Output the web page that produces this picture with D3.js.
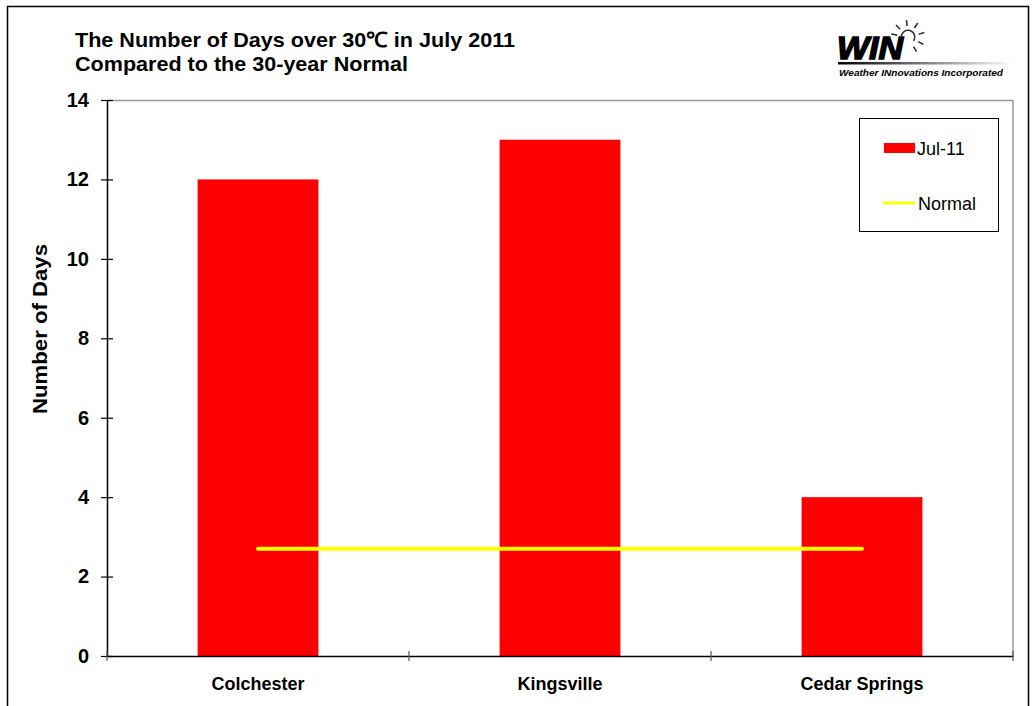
<!DOCTYPE html>
<html>
<head>
<meta charset="utf-8">
<script src="https://cdn.jsdelivr.net/npm/d3@7"></script>
<style>
body { margin:0; background:#fff; }
text { font-family: "Liberation Sans", Arial, sans-serif; }
</style>
</head>
<body>
<div id="chart"></div>
<script>
// data
var stations = ["Colchester", "Kingsville", "Cedar Springs"];
var daysJul11 = [12, 13, 4];
var daysNormal = [2.7, 2.7, 2.7];
var yTicks = [0, 2, 4, 6, 8, 10, 12, 14];
var seriesNames = ["Jul-11", "Normal"];

function drawChart() {
    var svgWidth = 1033, svgHeight = 706;
    var margin = {top: 100, right: 20, bottom: 50, left: 107},
    width = 1013 - margin.left,
    height = 656 - margin.top;

    var svg = d3.select("#chart").append("svg")
    .attr("width", svgWidth).attr("height", svgHeight);

    // outer frame of the chart object
    svg.append("rect").attr("x", 7.5).attr("y", 6.5).attr("width", 1021).attr("height", 720)
    .style("stroke", "#000").style("stroke-width", 1.5).style("fill", "none");

    var g = svg.append("g").attr("transform", "translate(" + margin.left + "," + margin.top + ")");

    // scales
    var xScale = d3.scaleBand().domain(stations).range([0, width]).paddingInner(0.6).paddingOuter(0.3);
    var xBand = d3.scaleBand().domain(stations).range([0, width]);
    var yScale = d3.scaleLinear().domain([0, 14]).range([height, 0]);

    // plot area border (top and right, grey)
    g.append("line").attr("x1", 0).attr("x2", width).attr("y1", 0.5).attr("y2", 0.5)
    .style("stroke", "#999").style("stroke-width", 1.5);
    g.append("line").attr("x1", width).attr("x2", width).attr("y1", 0).attr("y2", height)
    .style("stroke", "#999").style("stroke-width", 1.5);

    // bars
    g.selectAll("rect.bar").data(daysJul11).enter().append("rect").attr("class", "bar")
    .attr("x", function(d, i) { return xScale(stations[i]); })
    .attr("y", function(d) { return yScale(d); })
    .attr("width", xScale.bandwidth())
    .attr("height", function(d) { return height - yScale(d); })
    .attr("fill", "#ff0000");

    // normal line from first to last category centre
    var line = d3.line().x(function(d, i) { return xBand(stations[i]) + xBand.bandwidth() / 2; })
    .y(function(d) { return yScale(d); });
    g.append("path").datum(daysNormal).attr("d", line)
    .attr("fill", "none").attr("stroke", "#ffff00").attr("stroke-width", 4).attr("stroke-linecap", "round");

    // Y axis
    var yAxis = g.append("g").call(d3.axisLeft(yScale).tickValues(yTicks).tickSize(0).tickPadding(18));
    yAxis.select(".domain").style("stroke", "#000").style("stroke-width", 1.5);
    yAxis.selectAll(".tick line").attr("x1", -6).attr("x2", 6).style("stroke", "#000").style("stroke-width", 1.2);
    yAxis.selectAll(".tick text").style("font-size", "20px").style("font-weight", "bold")
    .style("font-family", "Liberation Sans, Arial, sans-serif").attr("fill", "#000");

    // X axis
    var xAxis = g.append("g").attr("transform", "translate(0," + height + ")")
    .call(d3.axisBottom(xBand).tickSize(0).tickPadding(21));
    xAxis.select(".domain").style("stroke", "#000").style("stroke-width", 1.5);
    xAxis.selectAll(".tick text").style("font-size", "18px").style("font-weight", "bold")
    .style("font-family", "Liberation Sans, Arial, sans-serif").attr("fill", "#000");
    // category boundary ticks
    var bounds = stations.map(function(s) { return xBand(s); }).concat([width]);
    xAxis.selectAll("line.bound").data(bounds).enter().append("line").attr("class", "bound")
    .attr("x1", function(d) { return d; }).attr("x2", function(d) { return d; })
    .attr("y1", -5).attr("y2", 5).style("stroke", "#555").style("stroke-width", 1.2);

    // Y axis label
    svg.append("text").attr("text-anchor", "middle").attr("transform", "rotate(-90)")
    .attr("x", -329).attr("y", 47)
    .style("font-size", "21px").style("font-weight", "bold")
    .attr("textLength", 170).attr("lengthAdjust", "spacingAndGlyphs")
    .text("Number of Days");

    // title
    var title = svg.append("text").attr("x", 75).style("font-size", "21px").style("font-weight", "bold");
    title.append("tspan").attr("x", 75).attr("y", 47).attr("textLength", 440).attr("lengthAdjust", "spacingAndGlyphs")
    .text("The Number of Days over 30\u2103 in July 2011");
    title.append("tspan").attr("x", 75).attr("y", 71).attr("textLength", 333).attr("lengthAdjust", "spacingAndGlyphs")
    .text("Compared to the 30-year Normal");

    // legend
    var legend = svg.append("g");
    legend.append("rect").attr("x", 859.5).attr("y", 118.5).attr("width", 139).attr("height", 113)
    .style("stroke", "#000").style("stroke-width", 1).style("fill", "#fff");
    legend.append("rect").attr("x", 884).attr("y", 143).attr("width", 31).attr("height", 10).attr("fill", "#ff0000");
    legend.append("text").attr("x", 917).attr("y", 155).style("font-size", "18px").text(seriesNames[0]);
    legend.append("line").attr("x1", 883).attr("x2", 915).attr("y1", 203).attr("y2", 203)
    .style("stroke", "#ffff00").style("stroke-width", 3);
    legend.append("text").attr("x", 918).attr("y", 210).style("font-size", "18px").text(seriesNames[1]);

    ////////////////
    //// logo  /////
    ////////////////
    var logo = svg.append("g");
    var grad = svg.append("defs").append("linearGradient").attr("id", "fade");
    grad.append("stop").attr("offset", "0%").attr("stop-color", "#000");
    grad.append("stop").attr("offset", "100%").attr("stop-color", "#fff");
    logo.append("rect").attr("x", 838).attr("y", 62).attr("width", 175).attr("height", 2.5).attr("fill", "url(#fade)");
    logo.append("text").attr("x", 837).attr("y", 59).style("font-size", "32px").style("font-weight", "900")
    .style("font-style", "italic").style("stroke", "#000").style("stroke-width", 1.5)
    .attr("textLength", 66).attr("lengthAdjust", "spacingAndGlyphs").text("WIN");
    logo.append("text").attr("x", 839).attr("y", 76).style("font-size", "9px").style("font-weight", "bold")
    .style("font-style", "italic").attr("textLength", 164).attr("lengthAdjust", "spacingAndGlyphs")
    .text("Weather INnovations Incorporated");
    // bulb and rays
    var cx = 908, cy = 37;
    logo.append("path").attr("d", d3.arc()({innerRadius: 6, outerRadius: 7.5, startAngle: -Math.PI / 2, endAngle: Math.PI / 2 + 0.6}))
    .attr("transform", "translate(" + cx + "," + cy + ")").attr("fill", "#333");
    var rays = [-170, -135, -95, -55, -15, 25, 60];
    logo.selectAll("line.ray").data(rays).enter().append("line").attr("class", "ray")
    .attr("x1", function(d) { return cx + 11 * Math.cos(d * Math.PI / 180); })
    .attr("y1", function(d) { return cy + 11 * Math.sin(d * Math.PI / 180); })
    .attr("x2", function(d) { return cx + 17 * Math.cos(d * Math.PI / 180); })
    .attr("y2", function(d) { return cy + 17 * Math.sin(d * Math.PI / 180); })
    .style("stroke", "#333").style("stroke-width", 1.6);
}

drawChart();
</script>
</body>
</html>
